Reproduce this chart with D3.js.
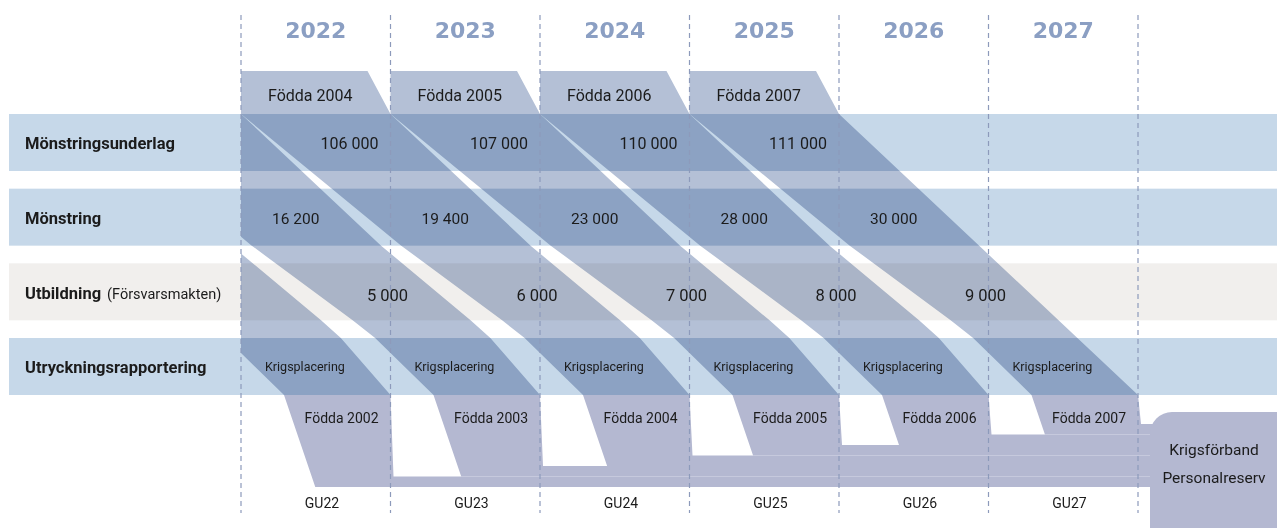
<!DOCTYPE html>
<html><head><meta charset="utf-8">
<script src="https://cdn.jsdelivr.net/npm/d3@7"></script>
<style>
body{margin:0;background:#fff;}
svg{display:block;font-family:Roboto,"Noto Sans",sans-serif;}
</style>
</head><body>
<svg id="c" width="1277" height="528"></svg>
<script>
// ---------- data ----------
const years = ["2022","2023","2024","2025","2026","2027"];
const rowLabels = ["Mönstringsunderlag","Mönstring","Utbildning","Utryckningsrapportering"];
const rowNotes = ["","","(Försvarsmakten)",""];
const cohorts = ["Födda 2002","Födda 2003","Födda 2004","Födda 2005","Födda 2006","Födda 2007"];
const tabCohorts = ["Födda 2004","Födda 2005","Födda 2006","Födda 2007"];
const underlag = [106000,107000,110000,111000];
const monstring = [16200,19400,23000,28000,30000];
const utbildning = [5000,6000,7000,8000,9000];
const placementLabel = "Krigsplacering";
const guLabels = ["GU22","GU23","GU24","GU25","GU26","GU27"];
const endLabels = ["Krigsförband","Personalreserv"];

// ---------- setup ----------
const svg = d3.select("#c");
const fmt = d3.formatLocale({decimal:",",thousands:" ",grouping:[3],currency:["",""]}).format(",d");
const X = d3.scaleLinear().domain([0, years.length]).range([241, 1138]);
const Y = d3.scaleLinear().domain([0, rowLabels.length - 1]).range([114, 338]);
const bandH = 57;
const rowC = i => Y(i) + bandH / 2;

const bandColors = ["#c6d8e9","#c6d8e9","#f1efed","#c6d8e9"];
const flowColor = "#b4c0d6";
const lowColor = "#b4b8d1";
const txt = "#1b1b1b";

svg.append("clipPath").attr("id","clipR").append("rect")
  .attr("x", X(0)).attr("y", 0).attr("width", 1277).attr("height", 528);

// lower flows (to Krigsförband)
const boxX = 1150;
const lowBase = 487, lowStep = 10.5;
const yTop = Y(0), yEnd = Y(3) + bandH;
const lowG = svg.append("g");
cohorts.forEach((c, k) => {
  const bot = lowBase - lowStep * k, top = lowBase - lowStep * (k + 1);
  const xl = X(k) + 43;
  const pts = [
    [xl, yEnd], [X(k+1), yEnd], [X(k+1) + 3, top],
    [boxX + 10, top], [boxX + 10, bot], [xl + 0.34 * (bot - yEnd), bot]
  ];
  lowG.append("path").attr("d", d3.line()(pts) + "Z").attr("fill", lowColor);
});

// upper flows (diagonal cohort bands)
const flowG = svg.append("g");
const bendYs = [Y(1) + bandH, Y(2) + bandH, Y(3)];
const bend = [0, 10, 11];
cohorts.forEach((c, ci) => {
  const k = ci - 2; // column of the cohort's tab
  const last = ci === cohorts.length - 1;
  const lin = (x0, x1) => y => x0 + (x1 - x0) * (y - yTop) / (yEnd - yTop);
  const right = lin(X(k+1), X(k+3));
  const left = lin(X(k), X(k+2) + 43);
  const pts = [];
  if (k >= 0) pts.push([X(k), 71], [X(k+1) - 23, 71]);
  pts.push([X(k+1), yTop]);
  if (!last) bendYs.forEach((y, j) => pts.push([right(y) + bend[j], y]));
  pts.push([X(k+3), yEnd], [X(k+2) + 43, yEnd]);
  bendYs.slice().reverse().forEach((y, j) => pts.push([left(y) + bend[bend.length - 1 - j], y]));
  pts.push([X(k), yTop]);
  flowG.append("path").attr("d", d3.line()(pts) + "Z")
    .attr("clip-path","url(#clipR)").attr("fill", flowColor);
});

// row bands, multiplied over the flows
svg.append("g").selectAll("rect").data(rowLabels).join("rect")
  .attr("x", 9).attr("width", 1277 - 9)
  .attr("y", (d,i) => Y(i)).attr("height", bandH)
  .attr("fill", (d,i) => bandColors[i]).style("mix-blend-mode","multiply");

// Krigsförband box
svg.append("rect").attr("x", boxX).attr("y", 412).attr("width", 160).attr("height", 140)
  .attr("rx", 22).attr("fill", lowColor);
svg.append("g").selectAll("text").data(endLabels).join("text")
  .attr("x", 1214).attr("y", (d,i) => 450 + i * 28).attr("dy","0.35em")
  .attr("text-anchor","middle").attr("font-size", 15.5).attr("fill", txt).text(d => d);

// dashed year dividers
svg.append("g").selectAll("line").data(d3.range(years.length + 1)).join("line")
  .attr("x1", d => X(d)).attr("x2", d => X(d)).attr("y1", 15).attr("y2", 513)
  .attr("stroke", "#8d9abb").attr("stroke-width", 1.2).attr("stroke-dasharray","5,4");

// year headers
svg.append("g").selectAll("text").data(years).join("text")
  .attr("x", (d,i) => (X(i) + X(i+1)) / 2).attr("y", 30).attr("dy","0.36em")
  .attr("text-anchor","middle").attr("font-family","'DejaVu Sans',sans-serif")
  .attr("font-weight","bold").attr("font-size", 22).attr("fill","#8b9fc3").text(d => d);

// row labels
const rl = svg.append("g").selectAll("text").data(rowLabels).join("text")
  .attr("x", 25).attr("y", (d,i) => rowC(i) + 1).attr("dy","0.35em")
  .attr("font-size", 16.5).attr("fill", txt);
rl.append("tspan").attr("font-weight","bold").text(d => d);
rl.append("tspan").attr("font-size", 14.5).attr("dx", 6).text((d,i) => rowNotes[i]);

// tab labels
svg.append("g").selectAll("text").data(tabCohorts).join("text")
  .attr("x", (d,i) => X(i) + 27).attr("y", 95).attr("dy","0.35em")
  .attr("font-size", 16).attr("fill", txt).text(d => d);

// values
svg.append("g").selectAll("text").data(underlag).join("text")
  .attr("x", (d,i) => X(i+1) - 12).attr("y", rowC(0) + 1).attr("dy","0.35em")
  .attr("text-anchor","end").attr("font-size", 16).attr("fill", txt).text(d => fmt(d));
svg.append("g").selectAll("text").data(monstring).join("text")
  .attr("x", (d,i) => X(i) + 31).attr("y", rowC(1) + 1).attr("dy","0.35em")
  .attr("font-size", 15.5).attr("fill", txt).text(d => fmt(d));
svg.append("g").selectAll("text").data(utbildning).join("text")
  .attr("x", (d,i) => X(i+1) - 3).attr("y", rowC(2) + 3).attr("dy","0.35em")
  .attr("text-anchor","middle").attr("font-size", 16.5).attr("fill", txt).text(d => fmt(d));
svg.append("g").selectAll("text").data(years).join("text")
  .attr("x", (d,i) => X(i) + 24).attr("y", rowC(3)).attr("dy","0.35em")
  .attr("font-size", 12.5).attr("fill", txt).text(placementLabel);

// lower cohort labels and GU labels
svg.append("g").selectAll("text").data(cohorts).join("text")
  .attr("x", (d,i) => X(i+1) - 12).attr("y", 418).attr("dy","0.35em")
  .attr("text-anchor","end").attr("font-size", 14).attr("fill", txt).text(d => d);
svg.append("g").selectAll("text").data(guLabels).join("text")
  .attr("x", (d,i) => X(i) + 81).attr("y", 503).attr("dy","0.35em")
  .attr("text-anchor","middle").attr("font-size", 14).attr("fill", txt).text(d => d);
</script>
</body></html>
